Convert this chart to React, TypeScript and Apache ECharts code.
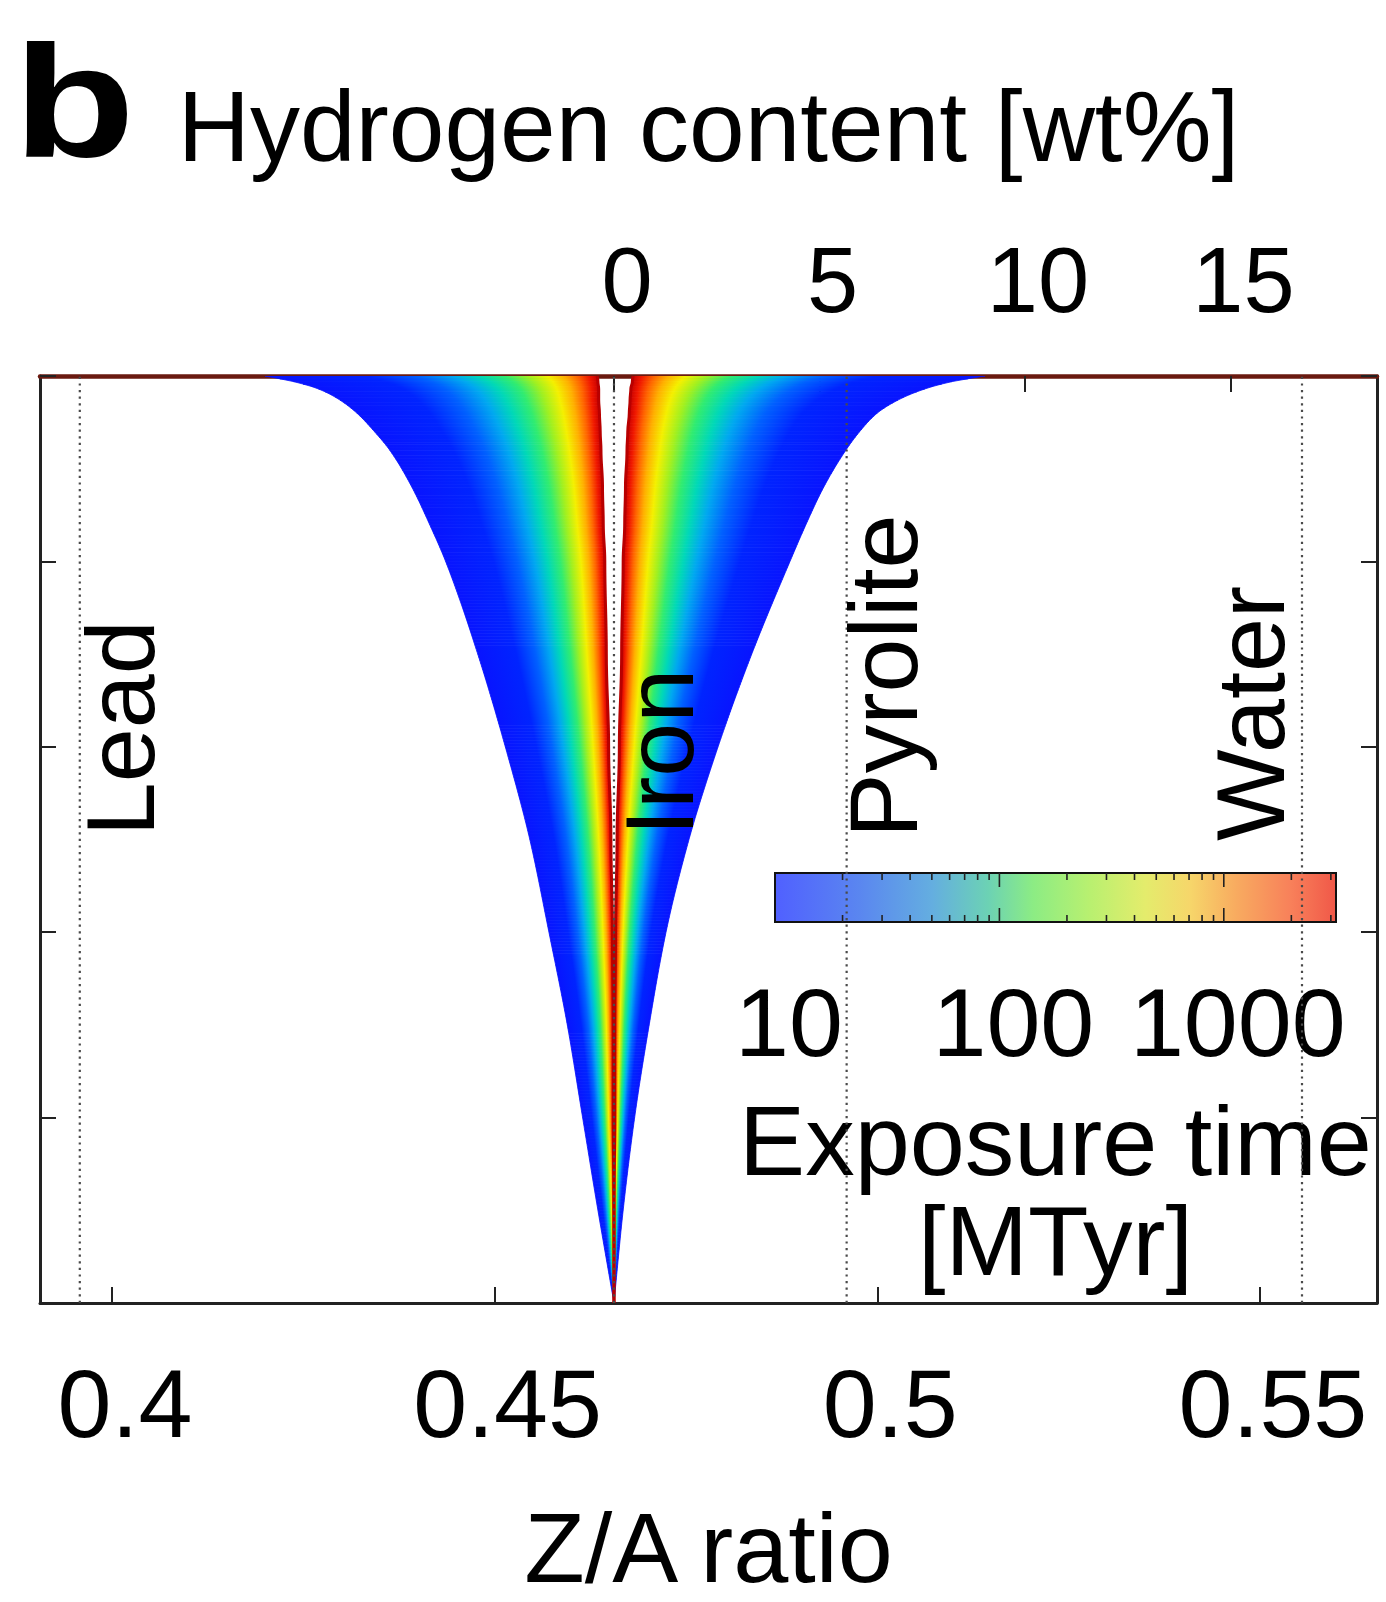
import React, { useEffect, useRef } from 'react';
import * as echarts from 'echarts';

// ---- data ----
// y rows of the band (unlabelled vertical axis, 0 = bottom, 5 = top)
const Y_ROWS = [5, 4.97, 4.93, 4.87, 4.8, 4.7, 4.6, 4.4, 4.2, 4.0, 3.5, 3.0, 2.5, 2.0, 1.5, 1.0, 0.5, 0];
// outer (10 MTyr, blue) and inner (~3000 MTyr, red) boundaries of the band, Z/A values
const OUTER_LEFT = [0.4200, 0.4237, 0.4270, 0.4298, 0.4320, 0.4343, 0.4363, 0.4392, 0.4415, 0.4436, 0.4478, 0.4514, 0.4546, 0.4571, 0.4595, 0.4615, 0.4635, 0.4656];
const INNER_LEFT = [0.4634, 0.4635, 0.4636, 0.4636, 0.4637, 0.4638, 0.4639, 0.4641, 0.4642, 0.4644, 0.4646, 0.4649, 0.4652, 0.4654, 0.4655, 0.4655, 0.4656, 0.4656];
const INNER_RIGHT = [0.4681, 0.4680, 0.4678, 0.4677, 0.4676, 0.4674, 0.4673, 0.4671, 0.4670, 0.4668, 0.4666, 0.4663, 0.4660, 0.4658, 0.4657, 0.4657, 0.4656, 0.4656];
const OUTER_RIGHT = [0.5141, 0.5098, 0.5062, 0.5027, 0.5000, 0.4977, 0.4959, 0.4930, 0.4907, 0.4886, 0.4836, 0.4792, 0.4754, 0.4724, 0.4702, 0.4683, 0.4668, 0.4656];

// reference materials (dotted vertical lines)
const MATERIALS = ['Lead', 'Iron', 'Pyrolite', 'Water'];
const MATERIAL_ZA = [0.3958, 0.4656, 0.4960, 0.5555];
const MATERIAL_LABEL_Y = [3.1, 2.97, 3.38, 3.18];

// axes
const X_MIN = 0.3906;
const X_MAX = 0.5653;
const X_TICKS = [0.4, 0.45, 0.5, 0.55];
const Y_MIN = 0;
const Y_MAX = 5;
const FE_ZA = 0.4656; // Z/A of pure iron = 0 wt% hydrogen
const ZA_PER_WT = 0.00537; // Z/A increase per wt% of hydrogen
const H_TICKS = [0, 5, 10, 15];

// colour bar (exposure time, MTyr, log scale)
const EXPO_MIN = 10;
const EXPO_MAX = 3162.28;
const EXPO_LABELS = [10, 100, 1000];
const EXPO_MAJOR_TICKS = [100, 1000];
const EXPO_MINOR_TICKS = [20, 30, 40, 50, 60, 70, 80, 90, 200, 300, 400, 500, 600, 700, 800, 900, 2000, 3000];

// ---- styles ----
const FONT = "'Liberation Sans', Arial, Helvetica, sans-serif";
const AXIS_COLOR = '#222';
const BAND_STOPS = [
  { offset: 0.0, color: '#0814ff' },
  { offset: 0.3, color: '#0024ff' },
  { offset: 0.45, color: '#0060ff' },
  { offset: 0.56, color: '#00a8f0' },
  { offset: 0.64, color: '#00d8b8' },
  { offset: 0.72, color: '#30ec70' },
  { offset: 0.79, color: '#a0f020' },
  { offset: 0.85, color: '#f4f000' },
  { offset: 0.9, color: '#ffb000' },
  { offset: 0.94, color: '#ff6400' },
  { offset: 0.975, color: '#f01800' },
  { offset: 1.0, color: '#c80000' },
];
const CBAR_STOPS = [
  { offset: 0.0, color: '#5060ff' },
  { offset: 0.15, color: '#5a86f0' },
  { offset: 0.28, color: '#64aee0' },
  { offset: 0.38, color: '#6cd2b4' },
  { offset: 0.46, color: '#8cec84' },
  { offset: 0.56, color: '#b8f070' },
  { offset: 0.66, color: '#e4ec6c' },
  { offset: 0.74, color: '#f6d66a' },
  { offset: 0.82, color: '#f8ac60' },
  { offset: 0.92, color: '#f8805a' },
  { offset: 1.0, color: '#f05848' },
];
const LABEL_DX = [41, 46, 37, -51];

// monotone cubic (Fritsch-Carlson) curve through the read boundary points, used only to draw them smoothly
function monotoneCurve(ys: number[], xs: number[]) {
  const n = ys.length;
  const h: number[] = [];
  const d: number[] = [];
  for (let k = 0; k < n - 1; k++) {
    h.push(ys[k + 1] - ys[k]);
    d.push((xs[k + 1] - xs[k]) / (ys[k + 1] - ys[k]));
  }
  const m: number[] = new Array(n).fill(0);
  m[0] = d[0];
  m[n - 1] = d[n - 2];
  for (let k = 1; k < n - 1; k++) {
    if (d[k - 1] * d[k] <= 0) m[k] = 0;
    else {
      const w1 = 2 * h[k] + h[k - 1];
      const w2 = h[k] + 2 * h[k - 1];
      m[k] = (w1 + w2) / (w1 / d[k - 1] + w2 / d[k]);
    }
  }
  return (k: number, t: number) => {
    const hh = h[k];
    const t2 = t * t;
    const t3 = t2 * t;
    return (
      (2 * t3 - 3 * t2 + 1) * xs[k] +
      (t3 - 2 * t2 + t) * hh * m[k] +
      (-2 * t3 + 3 * t2) * xs[k + 1] +
      (t3 - t2) * hh * m[k + 1]
    );
  };
}

export default function App() {
  const ref = useRef<HTMLDivElement>(null);

  useEffect(() => {
    if (!ref.current) return;
    const chart = echarts.init(ref.current, undefined, { renderer: 'svg' });

    const hMin = (X_MIN - FE_ZA) / ZA_PER_WT;
    const hMax = (X_MAX - FE_ZA) / ZA_PER_WT;
    const logMin = Math.log10(EXPO_MIN);
    const logMax = Math.log10(EXPO_MAX);

    const lerp = (a: number, b: number, t: number) => a + (b - a) * t;

    const bandRender = (params: any, api: any) => {
      const i = params.dataIndex;
      if (i >= Y_ROWS.length - 1) return null;
      const ypx = Y_ROWS.map((y) => api.coord([FE_ZA, y])[1]);
      const curve = (arr: number[]) => monotoneCurve(ypx, arr.map((v, k) => api.coord([v, Y_ROWS[k]])[0]));
      const lo = curve(OUTER_LEFT), li = curve(INNER_LEFT), ri = curve(INNER_RIGHT), ro = curve(OUTER_RIGHT);
      const ya = ypx[i], yb = ypx[i + 1];
      const S = Math.max(1, Math.ceil(Math.abs(yb - ya) / 3));
      const children: any[] = [];
      for (let s = 0; s < S; s++) {
        const t0 = s / S, t1 = (s + 1) / S, tm = (s + 0.5) / S;
        const y0 = lerp(ya, yb, t0), y1 = lerp(ya, yb, t1);
        const pairs: any[] = [[lo, li], [ro, ri]];
        for (const [o, n] of pairs) {
          const o0 = o(i, t0), o1 = o(i, t1);
          const n0 = n(i, t0), n1 = n(i, t1);
          const gx1 = o(i, tm);
          let gx2 = n(i, tm);
          if (Math.abs(gx2 - gx1) < 0.5) gx2 = gx1 + (gx2 >= gx1 ? 0.5 : -0.5);
          const grad = new echarts.graphic.LinearGradient(gx1, 0, gx2, 0, BAND_STOPS, true);
          children.push({
            type: 'polygon',
            shape: { points: [[o0, y0], [n0, y0], [n1, y1], [o1, y1]] },
            style: { fill: grad, stroke: grad, lineWidth: 0.8 },
          });
        }
      }
      return { type: 'group', children };
    };

    const cbarRender = (params: any, api: any) => {
      const p0 = api.coord([logMin, 1]);
      const p1 = api.coord([logMax, 0]);
      return {
        type: 'rect',
        shape: { x: p0[0], y: p0[1], width: p1[0] - p0[0], height: p1[1] - p0[1] },
        style: {
          fill: new echarts.graphic.LinearGradient(0, 0, 1, 0, CBAR_STOPS),
          stroke: '#111',
          lineWidth: 2,
        },
      };
    };

    const tickRender = (params: any, api: any) => {
      const x = api.coord([api.value(0), 0])[0];
      const yTop = api.coord([api.value(0), 1])[1];
      const yBot = api.coord([api.value(0), 0])[1];
      const len = api.value(2) ? 14 : 7;
      const style = { stroke: '#222', lineWidth: 1.6 };
      return {
        type: 'group',
        children: [
          { type: 'line', shape: { x1: x, y1: yTop, x2: x, y2: yTop + len }, style },
          { type: 'line', shape: { x1: x, y1: yBot, x2: x, y2: yBot - len }, style },
        ],
      };
    };

    const tickData = [
      ...EXPO_MAJOR_TICKS.map((v) => [Math.log10(v), 0, 1]),
      ...EXPO_MINOR_TICKS.map((v) => [Math.log10(v), 0, 0]),
    ];

    const yAxisBase = {
      gridIndex: 0,
      type: 'value',
      min: Y_MIN,
      max: Y_MAX,
      interval: 1,
      axisLine: { show: true, onZero: false, lineStyle: { color: AXIS_COLOR, width: 3 } },
      axisTick: { show: true, inside: true, length: 16, lineStyle: { color: AXIS_COLOR, width: 2 } },
      axisLabel: { show: false },
      splitLine: { show: false },
    };

    const option: any = {
      animation: false,
      backgroundColor: '#fff',
      textStyle: { fontFamily: FONT, color: '#000' },
      grid: [
        { left: 40, top: 376, width: 1337, height: 938 },
        { left: 775, top: 873, width: 561, height: 49 },
      ],
      xAxis: [
        {
          gridIndex: 0,
          type: 'value',
          position: 'bottom',
          min: X_MIN,
          max: X_MAX,
          axisLine: { onZero: false, lineStyle: { color: AXIS_COLOR, width: 3 } },
          axisTick: { inside: true, length: 16, customValues: X_TICKS, lineStyle: { color: AXIS_COLOR, width: 2 } },
          axisLabel: {
            customValues: X_TICKS,
            formatter: (v: number) => String(+v.toFixed(2)),
            fontSize: 97,
            margin: 52,
            padding: [0, 0, 0, 26],
            color: '#000',
            fontFamily: FONT,
          },
          splitLine: { show: false },
          name: 'Z/A ratio',
          nameLocation: 'middle',
          nameGap: 195,
          nameTextStyle: { fontSize: 99, color: '#000', fontFamily: FONT },
        },
        {
          gridIndex: 0,
          type: 'value',
          position: 'top',
          min: hMin,
          max: hMax,
          axisLine: { onZero: false, lineStyle: { color: '#6a1a10', width: 4.5 } },
          axisTick: { inside: true, length: 16, customValues: H_TICKS, lineStyle: { color: AXIS_COLOR, width: 2 } },
          axisLabel: {
            customValues: H_TICKS,
            formatter: (v: number) => String(Math.round(v)),
            fontSize: 92,
            margin: 50,
            padding: [0, 0, 0, 26],
            color: '#000',
            fontFamily: FONT,
          },
          splitLine: { show: false },
          name: 'Hydrogen content [wt%]',
          nameLocation: 'middle',
          nameGap: 200,
          nameTextStyle: { fontSize: 100, color: '#000', fontFamily: FONT },
        },
        {
          gridIndex: 1,
          type: 'value',
          position: 'bottom',
          min: logMin,
          max: logMax,
          axisLine: { show: false },
          axisTick: { show: false },
          splitLine: { show: false },
          axisLabel: {
            customValues: EXPO_LABELS.map((v) => Math.log10(v)),
            formatter: (v: number) => String(Math.round(Math.pow(10, v))),
            fontSize: 97,
            margin: 52,
            padding: [0, 0, 0, 28],
            color: '#000',
            fontFamily: FONT,
          },
          name: 'Exposure time\n[MTyr]',
          nameLocation: 'middle',
          nameGap: 168,
          nameTextStyle: { fontSize: 99, lineHeight: 100, color: '#000', fontFamily: FONT, align: 'center' },
        },
      ],
      yAxis: [
        { ...yAxisBase, position: 'left' },
        { ...yAxisBase, position: 'right' },
        { gridIndex: 1, type: 'value', min: 0, max: 1, show: false },
      ],
      series: [
        {
          type: 'custom',
          name: 'band',
          xAxisIndex: 0,
          yAxisIndex: 0,
          silent: true,
          z: 2,
          clip: true,
          renderItem: bandRender,
          data: Y_ROWS.map((y, i) => [OUTER_LEFT[i], y]),
        },
        {
          type: 'line',
          name: 'inner left',
          xAxisIndex: 0,
          yAxisIndex: 0,
          silent: true,
          z: 3,
          showSymbol: false,
          symbol: 'none',
          smooth: 0.4,
          smoothMonotone: 'y',
          lineStyle: { color: '#b80000', width: 3 },
          data: Y_ROWS.map((y, i) => [INNER_LEFT[i], y]),
        },
        {
          type: 'line',
          name: 'inner right',
          xAxisIndex: 0,
          yAxisIndex: 0,
          silent: true,
          z: 3,
          showSymbol: false,
          symbol: 'none',
          smooth: 0.4,
          smoothMonotone: 'y',
          lineStyle: { color: '#b80000', width: 3 },
          data: Y_ROWS.map((y, i) => [INNER_RIGHT[i], y]),
        },
        {
          type: 'custom',
          name: 'colorbar',
          xAxisIndex: 2,
          yAxisIndex: 2,
          silent: true,
          z: 4,
          renderItem: cbarRender,
          data: [[logMin, 0]],
        },
        {
          type: 'custom',
          name: 'colorbar ticks',
          xAxisIndex: 2,
          yAxisIndex: 2,
          silent: true,
          z: 5,
          renderItem: tickRender,
          data: tickData,
        },
        ...MATERIALS.map((m, k) => ({
          type: 'line',
          name: m,
          xAxisIndex: 0,
          yAxisIndex: 0,
          silent: true,
          z: 6,
          showSymbol: false,
          symbol: 'none',
          lineStyle: { color: '#4a4a4a', width: 2.2, type: [2.2, 4.4] },
          data: [[MATERIAL_ZA[k], Y_MIN], [MATERIAL_ZA[k], Y_MAX]],
        })),
      ],
    };

    chart.setOption(option);

    const texts: any[] = MATERIALS.map((m, k) => {
      const p = chart.convertToPixel({ xAxisIndex: 0, yAxisIndex: 0 }, [MATERIAL_ZA[k], MATERIAL_LABEL_Y[k]]) as number[];
      return {
        type: 'text',
        x: p[0] + LABEL_DX[k],
        y: p[1],
        rotation: Math.PI / 2,
        z: 100,
        style: {
          text: m,
          fontSize: 97,
          fontFamily: FONT,
          fill: '#000',
          align: 'center',
          verticalAlign: 'middle',
        },
      };
    });
    texts.push({
      type: 'text',
      x: 13,
      y: 101,
      scaleX: 1.25,
      z: 100,
      style: {
        text: 'b',
        fontSize: 160,
        fontWeight: 'bold',
        fontFamily: FONT,
        fill: '#000',
        align: 'left',
        verticalAlign: 'middle',
      },
    });
    chart.setOption({ graphic: texts });

    return () => chart.dispose();
  }, []);

  return (
    <div
      ref={ref}
      style={{ position: 'fixed', left: 0, top: 0, width: 1386, height: 1602, background: '#fff' }}
    />
  );
}
